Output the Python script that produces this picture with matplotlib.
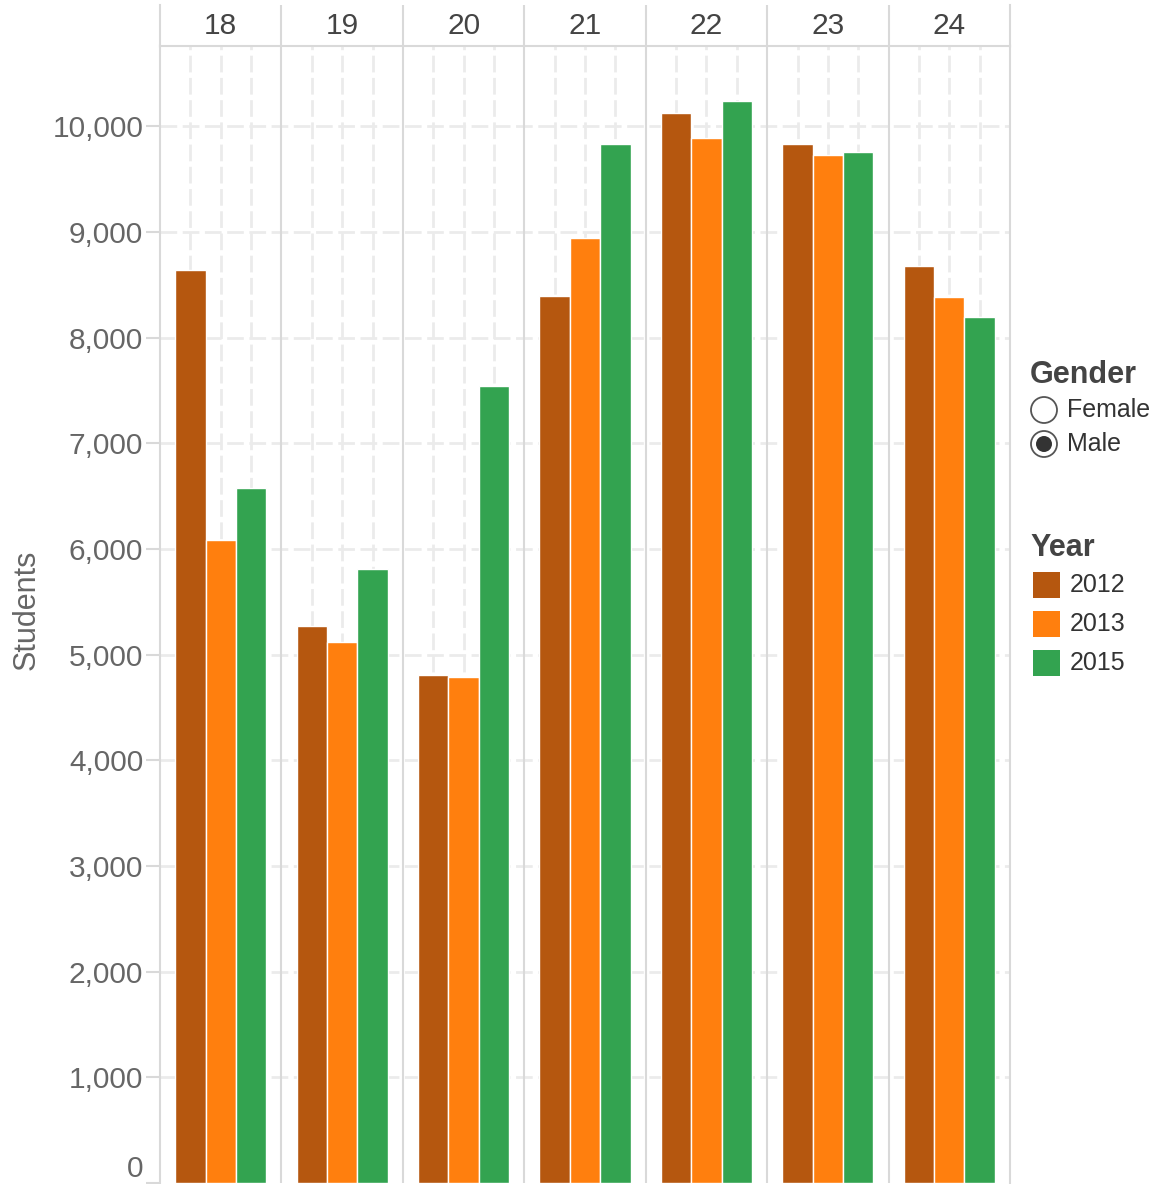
import numpy as np
import matplotlib.pyplot as plt
from matplotlib.patches import Rectangle, Circle

# male students by age, one series per year
ages = ['18', '19', '20', '21', '22', '23', '24']
years = ['2012', '2013', '2015']
male_2012 = [8640, 5270, 4805, 8390, 10130, 9830, 8675]
male_2013 = [6085, 5120, 4785, 8940, 9885, 9725, 8380]
male_2015 = [6575, 5810, 7540, 9830, 10235, 9755, 8195]
colors = ['#B5570F', '#FF7F0E', '#33A350']

plt.rcParams['font.family'] = ['Liberation Sans', 'DejaVu Sans']

W, H = 1158, 1184
fig = plt.figure(figsize=(W / 100, H / 100), dpi=100)
ax = fig.add_axes([160 / W, 1 / H, 850 / W, (1183 - 46) / H])
hdr = fig.add_axes([160 / W, (H - 46) / H, 850 / W, 41 / H])

grid_c = '#ebebeb'
line_c = '#d9d9d9'
dash = (0, (6, 2))

x = np.arange(len(ages))
step = 0.25
for k, (vals, c) in enumerate(zip([male_2012, male_2013, male_2015], colors)):
    ax.bar(x + (k - 1) * step, vals, width=step, color=c,
           edgecolor='white', linewidth=1.0, zorder=3)

ax.set_xlim(-0.5, len(ages) - 0.5)
ax.set_ylim(0, 10760)
yt = np.arange(0, 10001, 1000)
ax.set_yticks(yt, labels=[f'{v:,}' for v in yt])
ax.get_yticklabels()[0].set_va('bottom')

# dashed grid: rows at each thousand, columns through bar centres
for v in yt[1:]:
    ax.axhline(v, color=grid_c, lw=2, ls=dash, zorder=1)
for xi in x:
    for k in (-1, 0, 1):
        ax.axvline(xi + k * step, color=grid_c, lw=2, ls=dash, zorder=1)

# panel separators
for a in (ax, hdr):
    for b in np.arange(0.5, len(ages) - 0.5, 1):
        a.axvline(b, color=line_c, lw=1.5, zorder=2)

for s in ('top', 'bottom'):
    ax.spines[s].set_visible(False)
for s in ('left', 'right'):
    ax.spines[s].set_color(line_c)
    ax.spines[s].set_linewidth(1.5)
ax.tick_params(axis='y', length=10, width=1.5, color=line_c, pad=2,
               labelsize=21.5, labelcolor='#666666')
ax.tick_params(axis='x', length=0, labelbottom=False)

# age header row
hdr.set_xlim(-0.5, len(ages) - 0.5)
hdr.set_ylim(0, 1)
hdr.set_xticks([])
hdr.set_yticks([])
hdr.spines['top'].set_visible(False)
for s in ('left', 'right', 'bottom'):
    hdr.spines[s].set_color(line_c)
    hdr.spines[s].set_linewidth(1.5)
for xi, a in zip(x, ages):
    hdr.text(xi, 0.5, a, ha='center', va='center', fontsize=21.5, color='#444444')

fig.text(27 / W, 1 - 610 / H, 'Students', rotation=90, ha='center', va='center',
         fontsize=22, color='#666666')

# legends drawn in pixel space
leg = fig.add_axes([0, 0, 1, 1])
leg.set_xlim(0, W)
leg.set_ylim(H, 0)
leg.axis('off')

leg.text(1030, 375, 'Gender', fontsize=22, weight='bold', color='#444444', va='center')
leg.add_patch(Circle((1044, 410), 13, fc='white', ec='#555555', lw=1.3))
leg.text(1067, 410, 'Female', fontsize=18, color='#333333', va='center')
leg.add_patch(Circle((1044, 444), 13, fc='white', ec='#555555', lw=1.3))
leg.add_patch(Circle((1044, 444), 8, fc='#333333', ec='none'))
leg.text(1067, 444, 'Male', fontsize=18, color='#333333', va='center')

leg.text(1030, 548, 'Year', fontsize=22, weight='bold', color='#444444', va='center')
for i, (yr, c) in enumerate(zip(years, colors)):
    top = 572 + 39 * i
    leg.add_patch(Rectangle((1033, top), 27, 26, fc=c, ec='none'))
    leg.text(1070, top + 13, yr, fontsize=18, color='#333333', va='center')

fig.savefig('out.png', dpi=100)
